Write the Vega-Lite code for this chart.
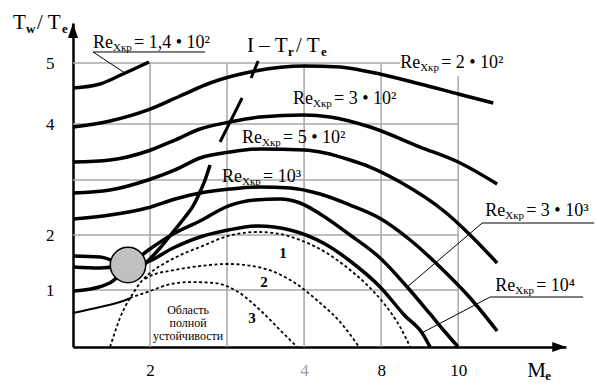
{
  "$schema": "https://vega.github.io/schema/vega-lite/v6.json",
  "width": 493,
  "height": 324,
  "autosize": {"type": "none"},
  "padding": {"left": 73, "top": 23, "right": 31, "bottom": 38},
  "background": "white",
  "config": {"view": {"stroke": null}, "font": "Liberation Serif, Times New Roman, DejaVu Serif, serif"},
  "datasets": {
    "curves": [
      {"c": "Re140", "u": 0, "v": 4.590}, {"c": "Re140", "u": 0.351, "v": 4.656}, {"c": "Re140", "u": 0.649, "v": 4.820}, {"c": "Re140", "u": 0.987, "v": 5.018},
      {"c": "Re200", "u": 0, "v": 3.946}, {"c": "Re200", "u": 0.481, "v": 4.049}, {"c": "Re200", "u": 0.974, "v": 4.230}, {"c": "Re200", "u": 1.390, "v": 4.459}, {"c": "Re200", "u": 1.779, "v": 4.672}, {"c": "Re200", "u": 2.364, "v": 4.869}, {"c": "Re200", "u": 3.0, "v": 4.951}, {"c": "Re200", "u": 3.468, "v": 4.934}, {"c": "Re200", "u": 3.857, "v": 4.852}, {"c": "Re200", "u": 4.506, "v": 4.656}, {"c": "Re200", "u": 5.0, "v": 4.492}, {"c": "Re200", "u": 5.455, "v": 4.344},
      {"c": "Re300", "u": 0, "v": 3.321}, {"c": "Re300", "u": 0.481, "v": 3.357}, {"c": "Re300", "u": 0.974, "v": 3.518}, {"c": "Re300", "u": 1.325, "v": 3.714}, {"c": "Re300", "u": 1.649, "v": 3.911}, {"c": "Re300", "u": 2.039, "v": 4.033}, {"c": "Re300", "u": 2.429, "v": 4.115}, {"c": "Re300", "u": 3.0, "v": 4.148}, {"c": "Re300", "u": 3.338, "v": 4.115}, {"c": "Re300", "u": 3.857, "v": 3.946}, {"c": "Re300", "u": 4.506, "v": 3.589}, {"c": "Re300", "u": 5.0, "v": 3.321}, {"c": "Re300", "u": 5.506, "v": 2.927},
      {"c": "Re500", "u": 0, "v": 2.764}, {"c": "Re500", "u": 0.481, "v": 2.818}, {"c": "Re500", "u": 0.974, "v": 3.0}, {"c": "Re500", "u": 1.325, "v": 3.179}, {"c": "Re500", "u": 1.649, "v": 3.393}, {"c": "Re500", "u": 2.039, "v": 3.5}, {"c": "Re500", "u": 2.429, "v": 3.554}, {"c": "Re500", "u": 3.0, "v": 3.536}, {"c": "Re500", "u": 3.273, "v": 3.482}, {"c": "Re500", "u": 3.597, "v": 3.357}, {"c": "Re500", "u": 3.857, "v": 3.232}, {"c": "Re500", "u": 4.247, "v": 2.964}, {"c": "Re500", "u": 4.831, "v": 2.418}, {"c": "Re500", "u": 5.156, "v": 2.0}, {"c": "Re500", "u": 5.506, "v": 1.491},
      {"c": "Re1000", "u": 0, "v": 2.291}, {"c": "Re1000", "u": 0.481, "v": 2.364}, {"c": "Re1000", "u": 0.961, "v": 2.491}, {"c": "Re1000", "u": 1.325, "v": 2.655}, {"c": "Re1000", "u": 1.649, "v": 2.764}, {"c": "Re1000", "u": 2.039, "v": 2.836}, {"c": "Re1000", "u": 2.429, "v": 2.873}, {"c": "Re1000", "u": 2.818, "v": 2.855}, {"c": "Re1000", "u": 3.208, "v": 2.745}, {"c": "Re1000", "u": 3.597, "v": 2.545}, {"c": "Re1000", "u": 4.0, "v": 2.291}, {"c": "Re1000", "u": 4.377, "v": 1.909}, {"c": "Re1000", "u": 4.831, "v": 1.327}, {"c": "Re1000", "u": 5.156, "v": 0.860}, {"c": "Re1000", "u": 5.506, "v": 0.281},
      {"c": "Re3000", "u": 0, "v": 1.618}, {"c": "Re3000", "u": 0.351, "v": 1.6}, {"c": "Re3000", "u": 0.714, "v": 1.455}, {"c": "Re3000", "u": 0.961, "v": 1.709}, {"c": "Re3000", "u": 1.299, "v": 2.018}, {"c": "Re3000", "u": 1.649, "v": 2.255}, {"c": "Re3000", "u": 2.013, "v": 2.527}, {"c": "Re3000", "u": 2.364, "v": 2.636}, {"c": "Re3000", "u": 2.688, "v": 2.655}, {"c": "Re3000", "u": 2.948, "v": 2.582}, {"c": "Re3000", "u": 3.208, "v": 2.382}, {"c": "Re3000", "u": 3.597, "v": 2.0}, {"c": "Re3000", "u": 3.987, "v": 1.582}, {"c": "Re3000", "u": 4.338, "v": 1.055}, {"c": "Re3000", "u": 4.636, "v": 0.579}, {"c": "Re3000", "u": 4.831, "v": 0.263}, {"c": "Re3000", "u": 5.0, "v": 0},
      {"c": "Re10000", "u": 0, "v": 1.418}, {"c": "Re10000", "u": 0.351, "v": 1.4}, {"c": "Re10000", "u": 0.714, "v": 1.455}, {"c": "Re10000", "u": 0.961, "v": 1.509}, {"c": "Re10000", "u": 1.299, "v": 1.764}, {"c": "Re10000", "u": 1.649, "v": 1.964}, {"c": "Re10000", "u": 2.013, "v": 2.091}, {"c": "Re10000", "u": 2.403, "v": 2.164}, {"c": "Re10000", "u": 2.818, "v": 2.091}, {"c": "Re10000", "u": 3.273, "v": 1.836}, {"c": "Re10000", "u": 3.597, "v": 1.527}, {"c": "Re10000", "u": 3.987, "v": 1.055}, {"c": "Re10000", "u": 4.312, "v": 0.544}, {"c": "Re10000", "u": 4.532, "v": 0.246}, {"c": "Re10000", "u": 4.636, "v": 0},
      {"c": "feed", "u": 0, "v": 0.982}, {"c": "feed", "u": 0.286, "v": 1.036}, {"c": "feed", "u": 0.519, "v": 1.164}, {"c": "feed", "u": 0.714, "v": 1.455},
      {"c": "locus", "u": 0.935, "v": 1.473}, {"c": "locus", "u": 1.130, "v": 1.764}, {"c": "locus", "u": 1.299, "v": 2.055}, {"c": "locus", "u": 1.455, "v": 2.327}, {"c": "locus", "u": 1.558, "v": 2.527}, {"c": "locus", "u": 1.649, "v": 2.782}, {"c": "locus", "u": 1.714, "v": 3.0}, {"c": "locus", "u": 1.779, "v": 3.268},
      {"c": "thin", "u": 0, "v": 0.596}, {"c": "thin", "u": 0.351, "v": 0.702}, {"c": "thin", "u": 0.610, "v": 0.789}, {"c": "thin", "u": 0.753, "v": 0.860},
      {"c": "b1", "u": 0.481, "v": 0}, {"c": "b1", "u": 0.532, "v": 0.211}, {"c": "b1", "u": 0.610, "v": 0.509}, {"c": "b1", "u": 0.688, "v": 0.737}, {"c": "b1", "u": 0.766, "v": 0.912}, {"c": "b1", "u": 0.870, "v": 1.127}, {"c": "b1", "u": 1.0, "v": 1.309}, {"c": "b1", "u": 1.195, "v": 1.491}, {"c": "b1", "u": 1.455, "v": 1.673}, {"c": "b1", "u": 1.649, "v": 1.782}, {"c": "b1", "u": 2.013, "v": 1.982}, {"c": "b1", "u": 2.403, "v": 2.055}, {"c": "b1", "u": 2.688, "v": 2.018}, {"c": "b1", "u": 2.948, "v": 1.909}, {"c": "b1", "u": 3.273, "v": 1.691}, {"c": "b1", "u": 3.532, "v": 1.436}, {"c": "b1", "u": 3.792, "v": 1.127}, {"c": "b1", "u": 4.052, "v": 0.737}, {"c": "b1", "u": 4.247, "v": 0.351}, {"c": "b1", "u": 4.377, "v": 0},
      {"c": "b2", "u": 0.935, "v": 1.2}, {"c": "b2", "u": 1.0, "v": 1.255}, {"c": "b2", "u": 1.325, "v": 1.364}, {"c": "b2", "u": 1.649, "v": 1.436}, {"c": "b2", "u": 2.013, "v": 1.473}, {"c": "b2", "u": 2.455, "v": 1.4}, {"c": "b2", "u": 2.883, "v": 1.127}, {"c": "b2", "u": 3.208, "v": 0.772}, {"c": "b2", "u": 3.468, "v": 0.439}, {"c": "b2", "u": 3.714, "v": 0},
      {"c": "b3", "u": 0.740, "v": 0.860}, {"c": "b3", "u": 1.0, "v": 0.982}, {"c": "b3", "u": 1.221, "v": 1.091}, {"c": "b3", "u": 1.519, "v": 1.145}, {"c": "b3", "u": 1.844, "v": 1.127}, {"c": "b3", "u": 2.143, "v": 0.965}, {"c": "b3", "u": 2.455, "v": 0.614}, {"c": "b3", "u": 2.688, "v": 0.298}, {"c": "b3", "u": 2.909, "v": 0}
    ],
    "grid": [
      {"u": 1, "v": 0, "u2": 1, "v2": 5}, {"u": 2, "v": 0, "u2": 2, "v2": 5}, {"u": 3, "v": 0, "u2": 3, "v2": 5}, {"u": 4, "v": 0, "u2": 4, "v2": 5}, {"u": 5, "v": 0, "u2": 5, "v2": 4.787},
      {"u": 0, "v": 1, "u2": 5, "v2": 1}, {"u": 0, "v": 2, "u2": 5, "v2": 2}, {"u": 0, "v": 3, "u2": 5, "v2": 3}, {"u": 0, "v": 4, "u2": 5, "v2": 4}, {"u": 0, "v": 5, "u2": 4.247, "v2": 5}
    ],
    "leaders": [
      {"u": 0.260, "v": 5.193, "u2": 1.714, "v2": 5.193}, {"u": 0.260, "v": 5.193, "u2": 0.675, "v2": 4.836},
      {"u": 5.312, "v": 2.218, "u2": 6.766, "v2": 2.218}, {"u": 5.312, "v": 2.218, "u2": 4.338, "v2": 1.055},
      {"u": 5.416, "v": 0.877, "u2": 6.623, "v2": 0.877}, {"u": 5.416, "v": 0.877, "u2": 4.532, "v2": 0.250}
    ],
    "ticks": [
      {"u": 2.312, "v": 4.754, "u2": 2.403, "v2": 5.035},
      {"u": 2.195, "v": 4.426, "u2": 1.909, "v2": 3.679}
    ],
    "node": [{"u": 0.714, "v": 1.455}],
    "yArrow": [{"u": 0, "v": 5.570}],
    "xArrow": [{"u": 6.312, "v": 0}],
    "re": [
      {"u": 0.260, "v": 5.263, "rest": "= 1,4 • 10²"},
      {"u": 4.247, "v": 4.918, "rest": "= 2 • 10²"},
      {"u": 2.857, "v": 4.328, "rest": "= 3 • 10²"},
      {"u": 2.195, "v": 3.661, "rest": "= 5 • 10²"},
      {"u": 1.935, "v": 2.964, "rest": "= 10³"},
      {"u": 5.351, "v": 2.345, "rest": "= 3 • 10³"},
      {"u": 5.481, "v": 0.982, "rest": "= 10⁴"}
    ],
    "big": [
      {"u": -0.779, "v": 5.596, "t": "T"}, {"u": -0.468, "v": 5.596, "t": "/ T"},
      {"u": 2.260, "v": 5.193, "t": "I – T"}, {"u": 2.896, "v": 5.193, "t": "/ T"},
      {"u": 5.896, "v": -0.526, "t": "M"}
    ],
    "subs": [
      {"u": -0.610, "v": 5.526, "t": "w"}, {"u": -0.143, "v": 5.526, "t": "e"},
      {"u": 2.792, "v": 5.123, "t": "r"}, {"u": 3.221, "v": 5.123, "t": "e"},
      {"u": 6.130, "v": -0.579, "t": "e"}
    ],
    "nums": [
      {"u": 2.727, "v": 1.673, "t": "1"}, {"u": 2.481, "v": 1.145, "t": "2"}, {"u": 2.325, "v": 0.509, "t": "3"}
    ],
    "note": [
      {"u": 1.494, "v": 0.579, "t": "Область"}, {"u": 1.494, "v": 0.351, "t": "полной"}, {"u": 1.494, "v": 0.123, "t": "устойчивости"}
    ]
  },
  "encoding": {
    "x": {
      "field": "u", "type": "quantitative",
      "scale": {"domain": [0, 6.4], "nice": false, "zero": false},
      "axis": {
        "values": [1, 3, 4, 5],
        "labelExpr": "datum.value == 1 ? '2' : datum.value == 3 ? '4' : datum.value == 4 ? '8' : '10'",
        "ticks": false, "grid": false, "title": null,
        "domainColor": "black", "domainWidth": 2.5,
        "labelFont": "Liberation Serif, Times New Roman, DejaVu Serif, serif", "labelFontSize": 17, "labelPadding": 15,
        "labelFlush": false, "labelOverlap": false,
        "labelColor": {"condition": {"test": "datum.value == 3", "value": "#a0a0a0"}, "value": "black"}
      }
    },
    "y": {
      "field": "v", "type": "quantitative",
      "scale": {"domain": [0, 1, 2, 3, 4, 5, 5.7], "range": [324, 267, 212, 157, 101, 40, 0], "nice": false, "zero": false},
      "axis": {
        "values": [1, 2, 4, 5],
        "ticks": false, "grid": false, "title": null,
        "domainColor": "black", "domainWidth": 2.5,
        "labelFont": "Liberation Serif, Times New Roman, DejaVu Serif, serif", "labelFontSize": 17, "labelPadding": 19,
        "labelColor": "black", "labelOverlap": false
      }
    }
  },
  "layer": [
    {
      "data": {"name": "grid"},
      "mark": {"type": "rule", "color": "#a8a8a8", "strokeWidth": 1.5},
      "encoding": {"x2": {"field": "u2"}, "y2": {"field": "v2"}}
    },
    {
      "data": {"name": "leaders"},
      "mark": {"type": "rule", "color": "black", "strokeWidth": 1},
      "encoding": {"x2": {"field": "u2"}, "y2": {"field": "v2"}}
    },
    {
      "data": {"name": "curves"},
      "transform": [{"filter": {"field": "c", "oneOf": ["b1", "b2", "b3"]}}],
      "mark": {"type": "line", "color": "black", "strokeWidth": 1.8, "strokeDash": [3, 2.5], "interpolate": "monotone"},
      "encoding": {"detail": {"field": "c"}}
    },
    {
      "data": {"name": "curves"},
      "transform": [{"filter": {"field": "c", "equal": "thin"}}],
      "mark": {"type": "line", "color": "black", "strokeWidth": 2, "interpolate": "monotone"},
      "encoding": {"detail": {"field": "c"}}
    },
    {
      "data": {"name": "curves"},
      "transform": [{"filter": {"field": "c", "oneOf": ["Re140", "Re200", "Re300", "Re500", "Re1000", "Re3000", "Re10000", "feed", "locus"]}}],
      "mark": {"type": "line", "color": "black", "strokeWidth": 3.5, "interpolate": "monotone"},
      "encoding": {"detail": {"field": "c"}}
    },
    {
      "data": {"name": "ticks"},
      "mark": {"type": "rule", "color": "black", "strokeWidth": 3},
      "encoding": {"x2": {"field": "u2"}, "y2": {"field": "v2"}}
    },
    {
      "data": {"name": "node"},
      "mark": {"type": "point", "shape": "circle", "size": 1257, "filled": true, "fill": "#c0c0c0", "stroke": "black", "strokeWidth": 1.5, "opacity": 1}
    },
    {
      "data": {"name": "yArrow"},
      "mark": {"type": "point", "shape": "M0,-1L0.667,1L-0.667,1Z", "size": 225, "filled": true, "color": "black", "opacity": 1}
    },
    {
      "data": {"name": "xArrow"},
      "mark": {"type": "point", "shape": "M1,0L-1,-0.7L-1,0.7Z", "size": 196, "filled": true, "color": "black", "opacity": 1}
    },
    {
      "data": {"name": "re"},
      "mark": {"type": "text", "font": "Liberation Serif, Times New Roman, DejaVu Serif, serif", "fontSize": 18, "align": "left", "baseline": "alphabetic", "color": "black"},
      "encoding": {"text": {"value": "Re"}}
    },
    {
      "data": {"name": "re"},
      "mark": {"type": "text", "font": "Liberation Serif, Times New Roman, DejaVu Serif, serif", "fontSize": 11, "align": "left", "baseline": "alphabetic", "dx": 20, "dy": 3, "color": "black"},
      "encoding": {"text": {"value": "Хкр"}}
    },
    {
      "data": {"name": "re"},
      "mark": {"type": "text", "font": "Liberation Serif, Times New Roman, DejaVu Serif, serif", "fontSize": 18, "align": "left", "baseline": "alphabetic", "dx": 41, "color": "black"},
      "encoding": {"text": {"field": "rest"}}
    },
    {
      "data": {"name": "big"},
      "mark": {"type": "text", "font": "Liberation Serif, Times New Roman, DejaVu Serif, serif", "fontSize": 21, "align": "left", "baseline": "alphabetic", "color": "black"},
      "encoding": {"text": {"field": "t"}}
    },
    {
      "data": {"name": "subs"},
      "mark": {"type": "text", "font": "Liberation Serif, Times New Roman, DejaVu Serif, serif", "fontSize": 13, "fontWeight": "bold", "align": "left", "baseline": "alphabetic", "color": "black"},
      "encoding": {"text": {"field": "t"}}
    },
    {
      "data": {"name": "nums"},
      "mark": {"type": "text", "font": "Liberation Serif, Times New Roman, DejaVu Serif, serif", "fontSize": 15, "fontWeight": "bold", "align": "center", "baseline": "middle", "color": "black"},
      "encoding": {"text": {"field": "t"}}
    },
    {
      "data": {"name": "note"},
      "mark": {"type": "text", "font": "Liberation Serif, Times New Roman, DejaVu Serif, serif", "fontSize": 12, "align": "center", "baseline": "alphabetic", "color": "black"},
      "encoding": {"text": {"field": "t"}}
    }
  ]
}
